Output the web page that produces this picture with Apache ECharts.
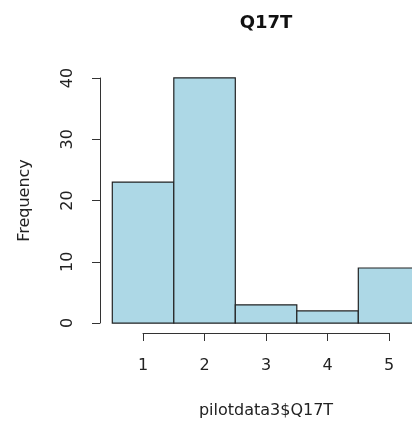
<!DOCTYPE html>
<html>
<head>
<meta charset="utf-8">
<script src="https://cdn.jsdelivr.net/npm/echarts@6/dist/echarts.min.js"></script>
<style>html,body{margin:0;padding:0;background:#fff}#c{width:412px;height:421px}</style>
</head>
<body>
<div id="c"></div>
<script>
const binStarts = [0.5, 1.5, 2.5, 3.5, 4.5];
const binEnds = [1.5, 2.5, 3.5, 4.5, 5.5];
const counts = [23, 40, 3, 2, 9];
const xTicks = [1, 2, 3, 4, 5];
const yTicks = [0, 10, 20, 30, 40];
const titleText = 'Q17T';
const xLabel = 'pilotdata3$Q17T';
const yLabel = 'Frequency';

const font = 'DejaVu Sans, Verdana, sans-serif';
const chart = echarts.init(document.getElementById('c'), null, {renderer: 'canvas'});
const data = binStarts.map((s, i) => [s, binEnds[i], counts[i]]);

chart.setOption({
  animation: false,
  backgroundColor: '#fff',
  title: {
    text: titleText, left: 266, top: 14, padding: 0, textAlign: 'center',
    textStyle: {fontFamily: font, fontSize: 18, fontWeight: 'bold', color: '#111'}
  },
  grid: [
    {left: 100, width: 312, top: 68, bottom: 88},
    {left: 100, width: 100, top: 78, bottom: 98},
    {left: 143, right: 23, top: 300, bottom: 88}
  ],
  xAxis: [
    {gridIndex: 0, type: 'value', min: 0.3, max: 5.373, show: false},
    {gridIndex: 1, type: 'value', min: 0, max: 1, show: false},
    {gridIndex: 2, type: 'value', min: xTicks[0], max: xTicks[xTicks.length - 1], interval: 1,
     position: 'bottom',
     axisLine: {show: true, onZero: false, lineStyle: {color: '#333', width: 1}},
     axisTick: {show: true, length: 8, lineStyle: {color: '#333'}},
     splitLine: {show: false},
     axisLabel: {margin: 25, fontFamily: font, fontSize: 16, color: '#222'},
     name: xLabel, nameLocation: 'middle', nameGap: 70,
     nameTextStyle: {fontFamily: font, fontSize: 16, color: '#222'}}
  ],
  yAxis: [
    {gridIndex: 0, type: 'value', min: -1.6, max: 41.6, show: false},
    {gridIndex: 1, type: 'value', min: yTicks[0], max: yTicks[yTicks.length - 1], interval: 10,
     axisLine: {show: true, onZero: false, lineStyle: {color: '#333', width: 1}},
     axisTick: {show: true, length: 8, lineStyle: {color: '#333'}},
     splitLine: {show: false},
     axisLabel: {rotate: 90, margin: 24, fontFamily: font, fontSize: 16, color: '#222'},
     name: yLabel, nameLocation: 'middle', nameGap: 67,
     nameTextStyle: {fontFamily: font, fontSize: 16, color: '#222'}},
    {gridIndex: 2, type: 'value', show: false}
  ],
  series: [{
    type: 'custom',
    xAxisIndex: 0, yAxisIndex: 0,
    clip: false,
    data: data,
    encode: {x: [0, 1], y: 2},
    renderItem: function (params, api) {
      const p0 = api.coord([api.value(0), 0]);
      const p1 = api.coord([api.value(1), api.value(2)]);
      return {
        type: 'rect',
        shape: {x: p0[0], y: p1[1], width: p1[0] - p0[0], height: p0[1] - p1[1]},
        style: {fill: '#ADD8E6', stroke: '#222', lineWidth: 1.2}
      };
    }
  }]
});
</script>
</body>
</html>
